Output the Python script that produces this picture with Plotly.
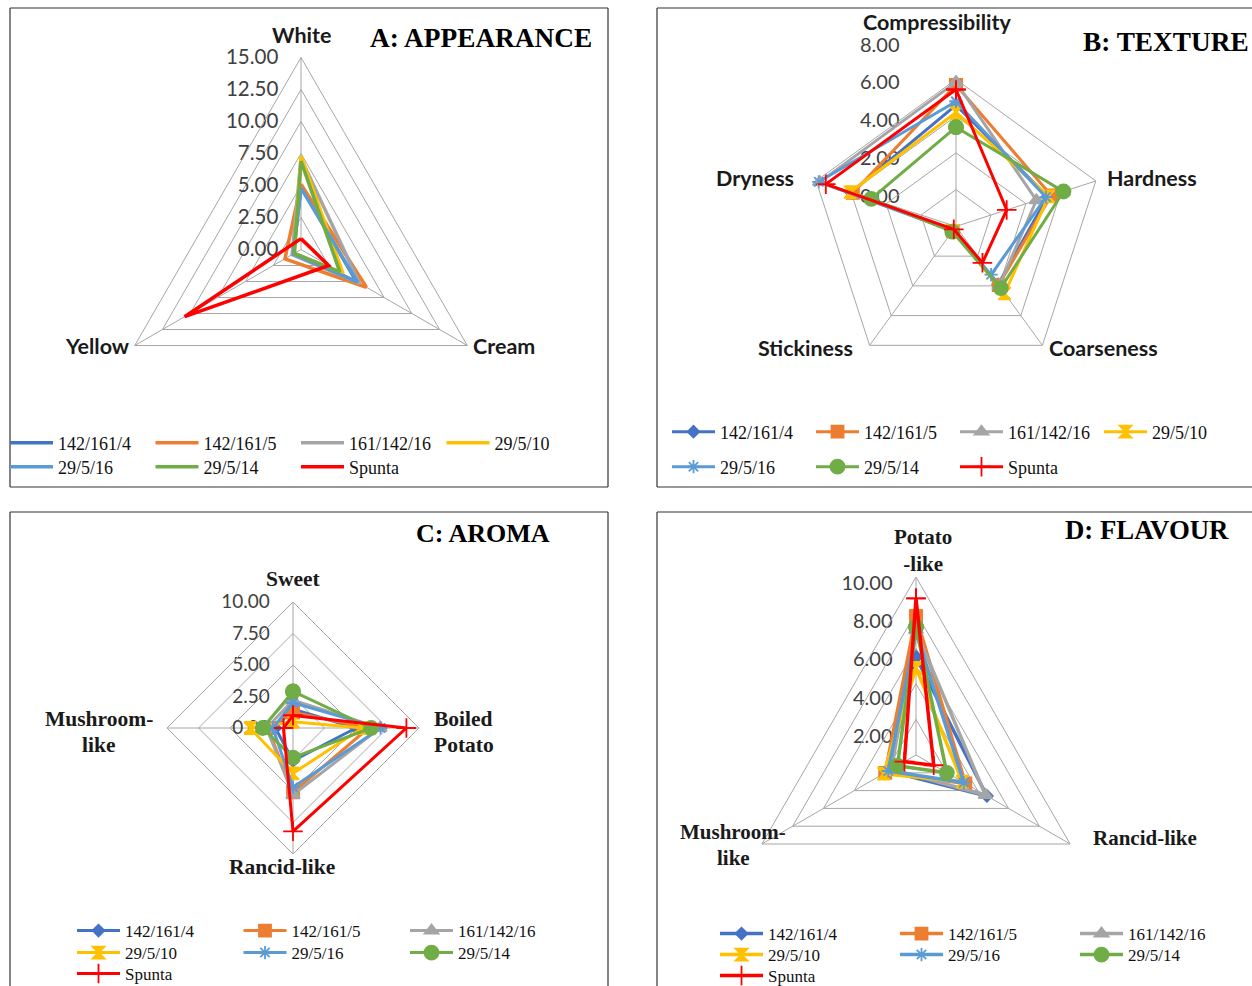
import plotly.graph_objects as go

W, H = 1252, 986

# ---------------- data ----------------
SERIES = ['142/161/4', '142/161/5', '161/142/16', '29/5/10', '29/5/16', '29/5/14', 'Spunta']
COLORS = ['#4472C4', '#ED7D31', '#A5A5A5', '#FFC000', '#5B9BD5', '#70AD47', '#FF0000']
SYMBOLS = ['diamond', 'square', 'triangle-up', 'hourglass', 'asterisk-open', 'circle', 'cross-thin-open']
MSIZES = [9, 12, 12, 12, 11, 14, 14]

A_AXES = ['White', 'Cream', 'Yellow']
A_VALUES = [
    [4.9, 5.0, 0.7],
    [5.1, 5.9, 1.45],
    [7.1, 5.3, 0.8],
    [7.3, 3.8, 0.6],
    [4.8, 5.1, 0.7],
    [6.9, 3.5, 0.6],
    [0.85, 2.5, 10.5],
]
A_TICKS = [0, 2.5, 5, 7.5, 10, 12.5, 15]

B_AXES = ['Compressibility', 'Hardness', 'Coarseness', 'Stickiness', 'Dryness']
B_VALUES = [
    [6.6, 5.25, 3.9, 0.3, 6.0],
    [7.7, 5.45, 3.95, 0.3, 5.9],
    [7.85, 4.6, 4.0, 0.25, 7.8],
    [6.2, 5.3, 4.5, 0.3, 6.05],
    [6.8, 5.15, 3.25, 0.3, 7.85],
    [5.4, 6.15, 4.15, 0.35, 4.85],
    [7.45, 2.9, 2.45, 0.2, 7.45],
]
B_TICKS = [0, 2, 4, 6, 8]

C_AXES = ['Sweet', 'Boiled<br>Potato', 'Rancid-like', 'Mushroom-<br>like']
C_VALUES = [
    [1.5, 5.0, 2.6, 1.4],
    [1.25, 6.0, 5.1, 2.0],
    [2.2, 6.9, 5.3, 2.1],
    [0.5, 5.5, 3.6, 3.4],
    [2.0, 6.95, 4.7, 1.6],
    [2.9, 6.2, 2.35, 2.4],
    [1.0, 9.0, 8.2, 0.75],
]
C_TICKS = [0, 2.5, 5, 7.5, 10]

D_AXES = ['Potato<br>-like', 'Rancid-like', 'Mushroom-<br>like']
D_VALUES = [
    [5.5, 4.6, 1.8],
    [7.8, 3.2, 2.0],
    [7.0, 4.5, 1.6],
    [4.9, 3.0, 2.1],
    [6.9, 3.1, 1.8],
    [7.2, 2.0, 1.2],
    [8.8, 1.15, 0.75],
]
D_TICKS = [2, 4, 6, 8, 10]

# ---------------- styling / layout ----------------
SANS = 'Lato'
SERIF = 'Liberation Serif'
GRID = '#A6A6A6'
TICKCOL = '#404040'


def px(x):
    return x / W


def py(y):
    return 1 - y / H


def dom(cx, cy, R):
    return dict(x=[(cx - R) / W, (cx + R) / W], y=[1 - (cy + R) / H, 1 - (cy - R) / H])


fig = go.Figure()


def ang_axis():
    return dict(rotation=90, direction='clockwise', showline=True, linecolor=GRID, linewidth=1,
                showgrid=True, gridcolor=GRID, gridwidth=1, ticks='', showticklabels=False)


def rad_axis(rng, tickvals, showlabels, gap, size, grid=True):
    return dict(range=rng, tickvals=tickvals, tickformat='.2f', angle=90, side='counterclockwise',
                tickangle=90, showline=False, showgrid=grid, gridcolor=GRID, gridwidth=1,
                showticklabels=showlabels, ticks='outside' if showlabels else '', ticklen=gap,
                tickcolor='rgba(0,0,0,0)', layer='below traces',
                tickfont=dict(family=SANS, size=size, color=TICKCOL))


layout_polars = {}
# A main
layout_polars['polar'] = dict(domain=dom(301, 249.5, 192), gridshape='linear', bgcolor='rgba(0,0,0,0)',
                              angularaxis=ang_axis(),
                              radialaxis=rad_axis([0, 15], A_TICKS, True, 15, 20.5))
# B: tick labels only (as printed in the original, offset from the rings)
layout_polars['polar2'] = dict(domain=dom(956, 226.4, 181.4), bgcolor='rgba(0,0,0,0)',
                               angularaxis=dict(visible=False),
                               radialaxis=rad_axis([-1.566, 8.001], B_TICKS, True, 49, 20, grid=False))
# B main
layout_polars['polar3'] = dict(domain=dom(956, 226.4, 147), gridshape='linear', bgcolor='rgba(0,0,0,0)',
                               angularaxis=ang_axis(),
                               radialaxis=rad_axis([0, 8], B_TICKS, False, 0, 20))
# C main
layout_polars['polar4'] = dict(domain=dom(293, 728, 126), gridshape='linear', bgcolor='rgba(0,0,0,0)',
                               angularaxis=ang_axis(),
                               radialaxis=rad_axis([0, 10], C_TICKS, True, 16, 19))
# D: tick labels only
layout_polars['polar5'] = dict(domain=dom(916, 755, 172), bgcolor='rgba(0,0,0,0)',
                               angularaxis=dict(visible=False),
                               radialaxis=rad_axis([1.04, 10.001], D_TICKS, True, 16, 20, grid=False))
# D main
layout_polars['polar6'] = dict(domain=dom(916, 755, 178), gridshape='linear', bgcolor='rgba(0,0,0,0)',
                               angularaxis=ang_axis(),
                               radialaxis=rad_axis([0, 10], [0, 2, 4, 6, 8, 10], False, 0, 20))

for pid in ['polar2', 'polar5']:
    fig.add_trace(go.Scatterpolar(r=[], theta=[], subplot=pid, showlegend=False, hoverinfo='skip'))

# label spec: (x, y of first line, anchor, line spacing; 0 = keep as one text block)
PANELS = [
    dict(sub='polar', axes=A_AXES, values=A_VALUES, markers=False, lw=3.5,
         legend=dict(x0=10, pitch=145.5, rows=[443, 467], per=4, size=18),
         font=SANS, lsize=21.5,
         labels=[(301, 35, 'center', 0), (503.5, 346, 'center', 0), (97.5, 346, 'center', 0)]),
    dict(sub='polar3', axes=B_AXES, values=B_VALUES, markers=True, lw=3,
         legend=dict(x0=672, pitch=144, rows=[432, 467], per=4, size=18),
         font=SANS, lsize=21.5,
         labels=[(937, 22, 'center', 0), (1151.5, 178, 'center', 0), (1103, 348, 'center', 0),
                 (805.5, 348, 'center', 0), (755, 178, 'center', 0)]),
    dict(sub='polar4', axes=C_AXES, values=C_VALUES, markers=True, lw=3,
         legend=dict(x0=77, pitch=166.5, rows=[931, 953, 974], per=3, size=17),
         font=SERIF, lsize=21.5,
         labels=[(293, 579, 'center', 0), (432, 719, 'left', 26), (281.5, 867, 'center', 0),
                 (98.5, 719, 'center', 26)]),
    dict(sub='polar6', axes=D_AXES, values=D_VALUES, markers=True, lw=3.5,
         legend=dict(x0=720, pitch=180, rows=[934, 955, 976], per=3, size=17),
         font=SERIF, lsize=21,
         labels=[(923, 550, 'center', 0), (1144.5, 838, 'center', 0), (733, 832, 'center', 26)]),
]

annotations = []
ITEMW = 43
legends = {}
lcount = 0
for p in PANELS:
    lg = p['legend']
    ids = []
    for ry in lg['rows']:
        lcount += 1
        lid = 'legend' if lcount == 1 else 'legend%d' % lcount
        ids.append(lid)
        legends[lid] = dict(orientation='h', x=(lg['x0'] - 5) / W, xanchor='left',
                            y=py(ry), yanchor='middle', bgcolor='rgba(0,0,0,0)',
                            borderwidth=0, itemwidth=ITEMW, entrywidthmode='pixels',
                            entrywidth=lg['pitch'] - ITEMW - 15,
                            font=dict(family=SERIF, size=lg['size'], color='#111'),
                            itemclick=False, itemdoubleclick=False)
    for i, name in enumerate(SERIES):
        vals = p['values'][i]
        fig.add_trace(go.Scatterpolar(
            r=vals + [vals[0]], theta=p['axes'] + [p['axes'][0]],
            mode='lines+markers' if p['markers'] else 'lines',
            name=name, subplot=p['sub'], legend=ids[i // lg['per']],
            line=dict(color=COLORS[i], width=p['lw']),
            marker=dict(symbol=SYMBOLS[i], size=MSIZES[i], color=COLORS[i],
                        line=dict(color=COLORS[i], width=1.8)),
        ))
    # category (spoke) labels
    for cat, (lx, ly, anchor, spacing) in zip(p['axes'], p['labels']):
        lines = cat.split('<br>') if spacing else [cat]
        for k, line in enumerate(lines):
            annotations.append(dict(text='<b>%s</b>' % line.replace('<br>', '</b><br><b>'),
                                    x=px(lx), y=py(ly + k * spacing),
                                    xref='paper', yref='paper', xanchor=anchor, yanchor='middle',
                                    align='center', showarrow=False,
                                    font=dict(family=p['font'], size=p['lsize'], color='#1a1a1a')))

TITLES = [('A: APPEARANCE', 481, 38, 27.3), ('B: TEXTURE', 1166, 42, 27.3),
          ('C: AROMA', 483, 533, 26), ('D: FLAVOUR', 1147, 530, 26.8)]
for t, x, y, s in TITLES:
    annotations.append(dict(text='<b>%s</b>' % t, x=px(x), y=py(y), xref='paper', yref='paper',
                            xanchor='center', yanchor='middle', showarrow=False,
                            font=dict(family=SERIF, size=s, color='#000')))

# panel frames (right/bottom edges of the cut-off panels are not visible)
FRAME_LINES = [
    (10, 8, 608, 8), (10, 487, 608, 487), (10, 8, 10, 487), (608, 8, 608, 487),       # A
    (657, 8, 1252, 8), (657, 487, 1252, 487), (657, 8, 657, 487),                      # B
    (10, 512, 608, 512), (10, 512, 10, 986), (608, 512, 608, 986),                     # C
    (657, 512, 1252, 512), (657, 512, 657, 986),                                       # D
]
shapes = [dict(type='line', xref='paper', yref='paper', x0=px(a), y0=py(b), x1=px(c), y1=py(d),
               line=dict(color='#333333', width=1.2))
          for a, b, c, d in FRAME_LINES]

fig.update_layout(width=W, height=H, margin=dict(l=0, r=0, t=0, b=0, autoexpand=False),
                  paper_bgcolor='white', plot_bgcolor='white',
                  annotations=annotations, shapes=shapes, **layout_polars, **legends)

fig.write_html('out.html', config={'displayModeBar': False},
               post_script="document.documentElement.style.overflow='hidden';"
                           "document.body.style.cssText='margin:0;padding:0;overflow:hidden;"
                           "width:1252px;height:986px;';")
